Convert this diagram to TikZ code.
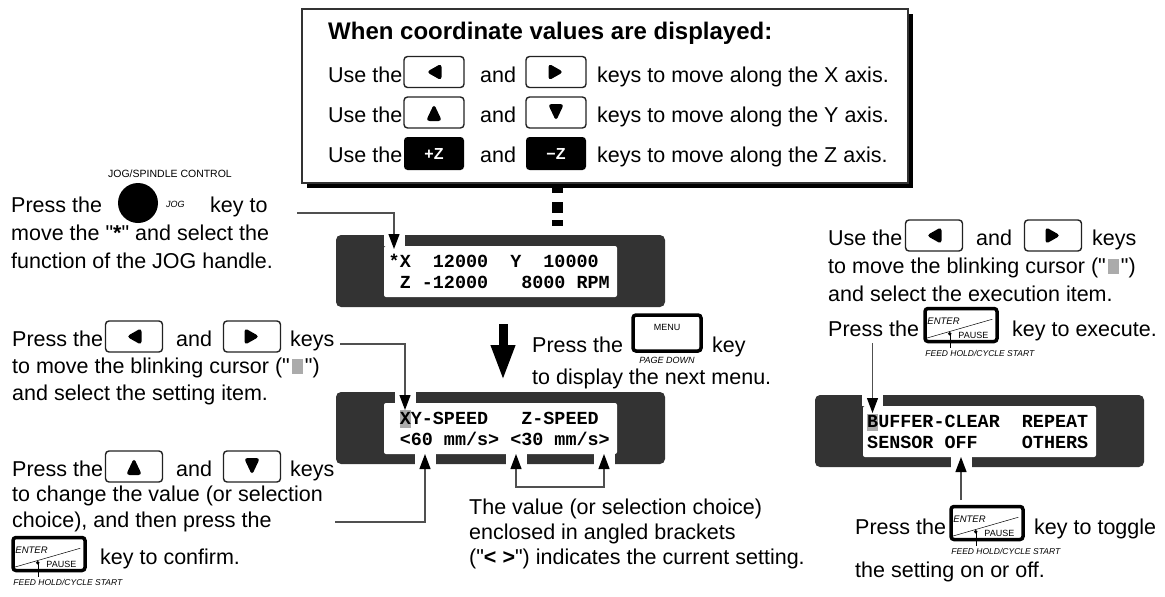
\documentclass[tikz,border=0pt]{standalone}
\usepackage{fontspec}
\setmainfont{Liberation Sans}[Ligatures=TeXOff]
\setmonofont{Liberation Mono}[Ligatures=TeXOff]
\usetikzlibrary{arrows.meta,shadows}
\definecolor{lcddark}{HTML}{333333}
\definecolor{connc}{HTML}{505050}
\definecolor{cursc}{HTML}{ABABAB}
\definecolor{keyc}{HTML}{222222}
\definecolor{boxc}{HTML}{333333}
\newcommand{\cursorblk}{\hspace{2pt}\textcolor{cursc}{\rule[-0.5pt]{11pt}{15pt}}\hspace{2pt}}
\tikzset{
 txt/.style={anchor=base west, inner sep=0pt, font=\fontsize{21.5pt}{24pt}\selectfont},
 ttl/.style={anchor=base west, inner sep=0pt, font=\fontsize{24pt}{28pt}\selectfont\bfseries},
 keybox/.style={draw=keyc, line width=1.4pt, rounded corners=3.5pt, minimum width=#1, minimum height=31pt, inner sep=0pt, fill=white},
 keybox/.default=57pt,
 triL/.style={path picture={\fill[black] ([xshift=-7.5pt]path picture bounding box.center) -- ++(15pt,8.5pt) -- ++(0pt,-17pt) -- cycle;}},
 triR/.style={path picture={\fill[black] ([xshift=7.5pt]path picture bounding box.center) -- ++(-15pt,8.5pt) -- ++(0pt,-17pt) -- cycle;}},
 triU/.style={path picture={\fill[black] ([yshift=8.5pt]path picture bounding box.center) -- ++(8pt,-17pt) -- ++(-16pt,0pt) -- cycle;}},
 triD/.style={path picture={\fill[black] ([yshift=-8.5pt]path picture bounding box.center) -- ++(8pt,17pt) -- ++(-16pt,0pt) -- cycle;}},
 zkey/.style={fill=black, rounded corners=3.5pt, minimum width=60pt, minimum height=33pt, inner sep=0pt, text=white, font=\fontsize{16pt}{16pt}\selectfont\bfseries},
 lcdframe/.style={fill=lcddark, rounded corners=5pt, minimum width=329pt, minimum height=72pt, inner sep=0pt},
 lcdscreen/.style={fill=white, rounded corners=2pt, minimum width=233pt, minimum height=51pt, inner sep=0pt},
 notch/.style={fill=white, minimum width=21pt, minimum height=11pt, inner sep=0pt},
 lcdtxt/.style={anchor=base west, inner sep=0pt, font=\fontsize{18.42pt}{21pt}\selectfont\ttfamily\bfseries},
 conn/.style={draw=connc, line width=1.2pt},
 arrtip/.style={-{Triangle[length=15pt,width=11pt,color=black]}},
 enterbox/.style={draw=black, line width=3.5pt, rounded corners=3pt, minimum width=72pt, minimum height=33pt, inner sep=0pt, fill=white},
 menubox/.style={draw=black, line width=3.5pt, rounded corners=3pt, minimum width=68pt, minimum height=36pt, inner sep=0pt, fill=white},
 tinytxt/.style={inner sep=0pt, font=\fontsize{9pt}{9pt}\selectfont},
 feedtxt/.style={anchor=base west, inner sep=0pt, font=\fontsize{8.5pt}{8.5pt}\selectfont\itshape},
}
\newcommand{\enterkey}[3]{%
 \node[enterbox] (#1) at (#2,#3) {};
 \draw[line width=0.5pt] ([shift={(3pt,5pt)}]#1.south west) -- ([shift={(69pt,24pt)}]#1.south west);
 \node[tinytxt, anchor=base west, font=\fontsize{9.5pt}{9.5pt}\selectfont\itshape] (#1-e) at ([shift={(4pt,19pt)}]#1.south west) {ENTER};
 \node[tinytxt, anchor=base west, font=\fontsize{9pt}{9pt}\selectfont] (#1-p) at ([shift={(35pt,5pt)}]#1.south west) {PAUSE};
 \fill ([shift={(26.5pt,9.5pt)}]#1.south west) circle (1.8pt);
 \draw[line width=0.5pt] ([shift={(26.5pt,9.5pt)}]#1.south west) -- ++(0pt,-14pt);
 \node[feedtxt] (#1-f) at ([shift={(2pt,-13.5pt)}]#1.south west) {FEED HOLD/CYCLE START};
}
\begin{document}
\begin{tikzpicture}[x=1pt,y=-1pt]
\useasboundingbox (0,0) rectangle (1165,597);

% ---------- top box ----------
\coordinate (dotA) at (557.5,183);
\coordinate (dotB) at (557.5,226);
\draw[line width=11pt, dash pattern=on 10pt off 9pt on 11pt off 7pt on 6pt off 20pt] (dotA) -- (dotB);
\node[draw=boxc, line width=1.2pt, fill=white, minimum width=606pt, minimum height=174pt, inner sep=0pt,
      drop shadow={shadow xshift=5pt, shadow yshift=-5pt, opacity=1, fill=black}] (topbox) at (605,96) {};
\node[ttl] (ttl) at (328,39) {When coordinate values are displayed:};
\node[txt] (r1a) at (328,82) {Use the};
\node[keybox=60pt, triL] (r1k1) at (434,72) {};
\node[txt] (r1b) at (480,82) {and};
\node[keybox=60pt, triR] (r1k2) at (556,72) {};
\node[txt] (r1c) at (597,82) {keys to move along the X axis.};
\node[txt] (r2a) at (328,122) {Use the};
\node[keybox=60pt, triU] (r2k1) at (434,112.5) {};
\node[txt] (r2b) at (480,122) {and};
\node[keybox=60pt, triD] (r2k2) at (556,112.5) {};
\node[txt] (r2c) at (597,122) {keys to move along the Y axis.};
\node[txt] (r3a) at (328,162) {Use the};
\node[zkey] (r3k1) at (434,153.5) {+Z};
\node[txt] (r3b) at (480,162) {and};
\node[zkey] (r3k2) at (556,153.5) {−Z};
\node[txt] (r3c) at (597,162) {keys to move along the Z axis.};

% ---------- LCD 1 ----------
\node[lcdframe] (lcd1) at (500.5,271) {};
\node[lcdscreen] (scr1) at (500.5,271.5) {};
\node[notch] (n1t) at (394,240.5) {};
\node[lcdtxt] (l1a) at (388.5,267) {*X~~12000~~Y~~10000};
\node[lcdtxt] (l1b) at (388.5,288) {~Z~-12000~~~8000~RPM};

% ---------- LCD 2 ----------
\node[lcdframe] (lcd2) at (500.5,428) {};
\node[lcdscreen] (scr2) at (500.5,428.5) {};
\node[notch] (n2t) at (405,397.5) {};
\node[notch] (n2b1) at (425,459) {};
\node[notch] (n2b2) at (516,459) {};
\node[notch] (n2b3) at (604,459) {};
\fill[cursc] (399.5,410) rectangle (410.5,428);
\node[lcdtxt] (l2a) at (388.5,424) {~XY-SPEED~~~Z-SPEED};
\node[lcdtxt] (l2b) at (388.5,445) {~<60~mm/s>~<30~mm/s>};

% ---------- LCD 3 ----------
\node[lcdframe] (lcd3) at (979.5,431) {};
\node[lcdscreen] (scr3) at (979.5,431.5) {};
\node[notch] (n3t) at (872.5,400.5) {};
\node[notch] (n3b) at (961,462) {};
\fill[cursc] (867,414) rectangle (878,431);
\node[lcdtxt] (l3a) at (867,427) {BUFFER-CLEAR~~REPEAT};
\node[lcdtxt] (l3b) at (867,448) {SENSOR~OFF~~~~OTHERS};

% ---------- big arrow + MENU ----------
\coordinate (bigA) at (503,324);
\coordinate (bigB) at (503,381);
\draw[line width=9pt, -{Triangle[length=36pt,width=22pt]}] (bigA) -- (bigB);
\node[txt] (m1) at (532,352) {Press the};
\node[menubox] (menu) at (667,333) {};
\node[tinytxt, anchor=base] (menut) at (667,330) {MENU};
\node[tinytxt, anchor=base, font=\fontsize{9pt}{9pt}\selectfont\itshape] (pgdn) at (667,363) {PAGE DOWN};
\node[txt] (m2) at (712,352) {key};
\node[txt] (m3) at (532,384) {to display the next menu.};

% ---------- group A (JOG) ----------
\node[tinytxt, anchor=base, font=\fontsize{10.5pt}{11pt}\selectfont] (jogl) at (170,177) {JOG/SPINDLE CONTROL};
\node[circle, fill=black, minimum size=40pt, inner sep=0pt] (jog) at (138,203) {};
\node[tinytxt, anchor=base west, font=\fontsize{9pt}{9pt}\selectfont\itshape] (jogt) at (166,207) {JOG};
\node[txt] (a1) at (11,212) {Press the};
\node[txt] (a2) at (210,212) {key to};
\node[txt] (a3) at (11,240) {move the "\textbf{*}" and select the};
\node[txt] (a4) at (11,268) {function of the JOG handle.};

% ---------- group B ----------
\node[txt] (b1) at (12,346) {Press the};
\node[keybox, triL] (bk1) at (134,336.5) {};
\node[txt] (b2) at (176,346) {and};
\node[keybox, triR] (bk2) at (252,336.5) {};
\node[txt] (b3) at (290,346) {keys};
\node[txt] (b4) at (12,373) {to move the blinking cursor ("\cursorblk")};
\node[txt] (b5) at (12,400) {and select the setting item.};

% ---------- group C ----------
\node[txt] (c1) at (12,476) {Press the};
\node[keybox, triU] (ck1) at (134,466.5) {};
\node[txt] (c2) at (176,476) {and};
\node[keybox, triD] (ck2) at (252,466.5) {};
\node[txt] (c3) at (290,476) {keys};
\node[txt] (c4) at (12,501) {to change the value (or selection};
\node[txt] (c5) at (12,527) {choice), and then press the};
\enterkey{ent1}{49}{554}
\node[txt] (c6) at (100,564) {key to confirm.};

% ---------- middle bottom text ----------
\node[txt] (v1) at (469,514) {The value (or selection choice)};
\node[txt] (v2) at (469,539) {enclosed in angled brackets};
\node[txt] (v3) at (469,564) {("\textbf{< >}") indicates the current setting.};

% ---------- right group ----------
\node[txt] (d1) at (828,245) {Use the};
\node[keybox, triL] (dk1) at (934,235.5) {};
\node[txt] (d2) at (976,245) {and};
\node[keybox, triR] (dk2) at (1053,235.5) {};
\node[txt] (d3) at (1092,245) {keys};
\node[txt] (d4) at (828,273) {to move the blinking cursor ("\cursorblk")};
\node[txt] (d5) at (828,301) {and select the execution item.};
\node[txt] (d6) at (828,336) {Press the};
\enterkey{ent2}{961}{325}
\node[txt] (d7) at (1012,336) {key to execute.};

% ---------- bottom right ----------
\node[txt] (e1) at (855,534) {Press the};
\enterkey{ent3}{987}{523}
\node[txt] (e2) at (1034,534) {key to toggle};
\node[txt] (e3) at (855,577) {the setting on or off.};

% ---------- connectors ----------
\coordinate (cAs) at (297,213);
\coordinate (cAe) at (394,249);
\draw[conn, arrtip] (cAs) -| (cAe);
\coordinate (cBs) at (340,344);
\coordinate (cBe) at (405,410);
\draw[conn, arrtip] (cBs) -| (cBe);
\coordinate (cCs) at (335,522);
\coordinate (cCe) at (425,454);
\draw[conn, arrtip] (cCs) -| (cCe);
\coordinate (cD1) at (516,454);
\coordinate (cDb) at (604,487);
\coordinate (cD2) at (604,454);
\draw[conn, {Triangle[length=15pt,width=11pt,color=black]}-{Triangle[length=15pt,width=11pt,color=black]}] (cD1) |- (cDb) -- (cD2);
\coordinate (cEs) at (872.5,343);
\coordinate (cEe) at (872.5,413);
\draw[conn, arrtip] (cEs) -- (cEe);
\coordinate (cFs) at (961,500);
\coordinate (cFe) at (961,457);
\draw[conn, arrtip] (cFs) -- (cFe);
\end{tikzpicture}
\end{document}
